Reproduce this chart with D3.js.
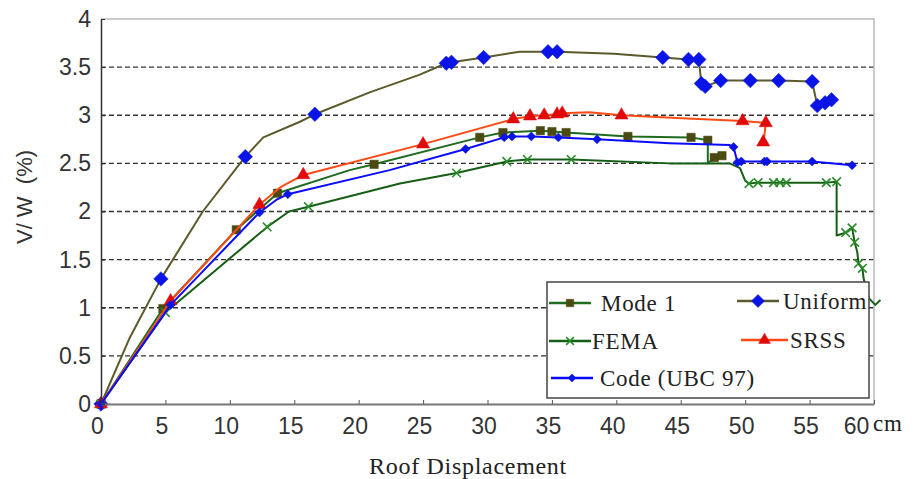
<!DOCTYPE html>
<html>
<head>
<meta charset="utf-8">
<script src="https://cdn.jsdelivr.net/npm/d3@7"></script>
<style>
  body { margin: 0; background: #fff; }
  .tick text { font-family: "Liberation Sans", Arial, sans-serif; font-size: 23px; fill: #333; }
  .serif { font-family: "Liberation Serif", "Times New Roman", serif; fill: #222; letter-spacing: 0.7px; }
</style>
</head>
<body>
<div id="chart"></div>
<script>
// [roof displacement (cm), V/W (%)]
const mode1Line = [[0,0],[4.8,0.99],[10.5,1.81],[13.7,2.19],[19.3,2.43],[21.2,2.49],[29.4,2.77],[31.2,2.82],[34.1,2.84],[35.0,2.83],[36.1,2.82],[40.9,2.78],[45.8,2.77],[47.1,2.74],[47.1,2.5],[47.6,2.56],[48.2,2.58]];
const mode1Marks = [[0,0],[4.8,0.99],[10.5,1.81],[13.7,2.19],[21.2,2.49],[29.4,2.77],[31.2,2.82],[34.1,2.84],[35.0,2.83],[36.1,2.82],[40.9,2.78],[45.8,2.77],[47.1,2.74],[47.6,2.56],[48.2,2.58]];

const uniformLine = [[0,0],[2.2,0.68],[4.65,1.3],[7.9,2.0],[11.2,2.57],[12.6,2.77],[15.4,2.93],[16.6,3.01],[20.9,3.24],[24.7,3.42],[26.8,3.54],[27.2,3.55],[29.7,3.6],[32.5,3.66],[34.7,3.66],[35.4,3.66],[39.8,3.64],[43.6,3.6],[45.6,3.58],[46.4,3.58],[46.6,3.33],[46.9,3.3],[48.1,3.36],[50.4,3.36],[52.6,3.36],[55.2,3.35],[55.6,3.1],[56.2,3.13],[56.7,3.16]];
const uniformMarks = [[0,0],[4.65,1.3],[11.2,2.57],[16.6,3.01],[26.8,3.54],[27.2,3.55],[29.7,3.6],[34.7,3.66],[35.4,3.66],[43.6,3.6],[45.6,3.58],[46.4,3.58],[46.6,3.33],[46.9,3.3],[48.1,3.36],[50.4,3.36],[52.6,3.36],[55.2,3.35],[55.6,3.1],[56.2,3.13],[56.7,3.16]];

const femaLine = [[0,0],[5.0,0.95],[12.9,1.84],[14.6,2.0],[16.1,2.05],[23.2,2.29],[27.6,2.4],[31.5,2.52],[33.1,2.54],[36.5,2.54],[44.1,2.5],[48.8,2.5],[49.6,2.45],[50.0,2.32],[50.3,2.29],[51.0,2.3],[52.2,2.3],[52.7,2.3],[53.2,2.3],[55.2,2.3],[56.3,2.3],[57.1,2.31],[57.1,1.75],[57.8,1.78],[58.3,1.83],[58.5,1.68],[58.7,1.58],[58.8,1.46],[59.1,1.41],[59.2,1.3],[59.6,1.1],[60.1,1.03],[60.5,1.08]];
const femaMarks = [[0,0],[5.0,0.95],[12.9,1.84],[16.1,2.05],[27.6,2.4],[31.5,2.52],[33.1,2.54],[36.5,2.54],[50.3,2.29],[51.0,2.3],[52.2,2.3],[52.7,2.3],[53.2,2.3],[56.3,2.3],[57.1,2.31],[57.8,1.78],[58.3,1.83],[58.5,1.68],[58.8,1.46],[59.1,1.41]];

const srssLine = [[0,0],[5.4,1.07],[12.3,2.07],[13.9,2.25],[15.7,2.38],[25,2.7],[32,2.96],[33.3,2.99],[34.4,3.0],[35.4,3.01],[35.8,3.02],[37.9,3.03],[40.4,3.0],[45.1,2.97],[49.8,2.94],[51.6,2.92],[51.5,2.8],[51.4,2.72]];
const srssMarks = [[0,0],[5.4,1.07],[12.3,2.07],[15.7,2.38],[25,2.7],[32,2.96],[33.3,2.99],[34.4,3.0],[35.4,3.01],[35.8,3.02],[40.4,3.0],[49.8,2.94],[51.6,2.92],[51.4,2.72]];

const codeLine = [[0,0],[5.4,1.03],[12.3,1.99],[13.6,2.12],[14.5,2.18],[22.4,2.43],[28.3,2.65],[31.3,2.77],[31.9,2.78],[33.4,2.78],[35.5,2.77],[38.5,2.75],[44.1,2.71],[48.8,2.69],[49.1,2.67],[49.4,2.51],[49.7,2.52],[51.5,2.52],[51.7,2.52],[55.2,2.52],[58.3,2.48]];
const codeMarks = [[0,0],[5.4,1.03],[12.3,1.99],[14.5,2.18],[28.3,2.65],[31.3,2.77],[31.9,2.78],[33.4,2.78],[35.5,2.77],[38.5,2.75],[49.1,2.67],[49.4,2.51],[49.7,2.52],[51.5,2.52],[51.7,2.52],[55.2,2.52],[58.3,2.48]];

const seriesNames = ["Mode 1", "Uniform", "FEMA", "SRSS", "Code (UBC 97)"];
const xTicks = [0, 5, 10, 15, 20, 25, 30, 35, 40, 45, 50, 55, 60];
const yTicks = [0, 0.5, 1, 1.5, 2, 2.5, 3, 3.5, 4];

const width = 913, height = 479;
const plotLeft = 101, plotRight = 874, plotTop = 19, plotBottom = 404;

const svg = d3.select("#chart").append("svg")
  .attr("width", width)
  .attr("height", height);

const x = d3.scaleLinear().domain([0, 60]).range([plotLeft, plotRight]);
const y = d3.scaleLinear().domain([0, 4]).range([plotBottom, plotTop]);

// grid
svg.append("g").selectAll("line")
  .data(yTicks.filter(d => d > 0 && d < 4))
  .join("line")
  .attr("x1", plotLeft).attr("x2", plotRight)
  .attr("y1", d => y(d)).attr("y2", d => y(d))
  .attr("stroke", "#333")
  .attr("stroke-width", 1.3)
  .attr("stroke-dasharray", "5,3");

// plot frame top / right
svg.append("path")
  .attr("d", `M${plotLeft},${plotTop}H${plotRight}V${plotBottom}`)
  .attr("fill", "none")
  .attr("stroke", "#bbb")
  .attr("stroke-width", 1.5);

// diamonds are squares turned 45 degrees
const styles = {
  "Mode 1": { line: "#1f6b1f", sym: d3.symbolSquare, size: 70, rot: 0, fill: "#4a4a12", stroke: "#4a4a12" },
  "Uniform": { line: "#5c5a2a", sym: d3.symbolSquare, size: 105, rot: 45, fill: "#0a14e6", stroke: "#0a14e6" },
  "FEMA": { line: "#165e16", sym: d3.symbolTimes, size: 50, rot: 0, fill: "none", stroke: "#2a8a2a" },
  "SRSS": { line: "#ff4a14", sym: d3.symbolTriangle, size: 75, rot: 0, fill: "#e00a0a", stroke: "#e00a0a" },
  "Code (UBC 97)": { line: "#0a0aff", sym: d3.symbolSquare, size: 40, rot: 45, fill: "#0a14e6", stroke: "#0a14e6" }
};

const series = [
  { name: "Mode 1", line: mode1Line, marks: mode1Marks },
  { name: "Uniform", line: uniformLine, marks: uniformMarks },
  { name: "FEMA", line: femaLine, marks: femaMarks },
  { name: "SRSS", line: srssLine, marks: srssMarks },
  { name: "Code (UBC 97)", line: codeLine, marks: codeMarks }
];

const line = d3.line().x(d => x(d[0])).y(d => y(d[1]));

series.forEach(s => {
  const st = styles[s.name];
  const g = svg.append("g");
  g.append("path")
    .datum(s.line)
    .attr("d", line)
    .attr("fill", "none")
    .attr("stroke", st.line)
    .attr("stroke-width", 2)
    .attr("stroke-linejoin", "round");
  g.selectAll("path.m")
    .data(s.marks)
    .join("path")
    .attr("class", "m")
    .attr("transform", d => `translate(${x(d[0])},${y(d[1])}) rotate(${st.rot})`)
    .attr("d", d3.symbol().type(st.sym).size(st.size))
    .attr("fill", st.fill)
    .attr("stroke", st.stroke)
    .attr("stroke-width", st.fill === "none" ? 1.6 : 0.5);
});

// axes
const xAxis = svg.append("g")
  .attr("transform", `translate(0,${plotBottom})`)
  .call(d3.axisBottom(x).tickValues(xTicks).tickSizeInner(-4).tickSizeOuter(0).tickPadding(14));
xAxis.select(".domain").attr("stroke", "#777").attr("stroke-width", 2);
xAxis.selectAll(".tick line").attr("stroke", "#555");
xAxis.selectAll(".tick text").attr("dx", d => d === 60 ? -18 : -4);

const yAxis = svg.append("g")
  .attr("transform", `translate(${plotLeft},0)`)
  .call(d3.axisLeft(y).tickValues(yTicks).tickFormat(d3.format("")).tickSizeInner(-4).tickSizeOuter(0).tickPadding(10));
yAxis.select(".domain").attr("stroke", "#333").attr("stroke-width", 1.5);
yAxis.selectAll(".tick line").attr("stroke", "#333");

// legend
const lg = svg.append("g");
lg.append("rect")
  .attr("x", 547).attr("y", 282)
  .attr("width", 322).attr("height", 116)
  .attr("fill", "#fff")
  .attr("stroke", "#444")
  .attr("stroke-width", 1.5);

const legendPos = [
  { x1: 549, x2: 591, tx: 601, ty: 303 },
  { x1: 737, x2: 779, tx: 783, ty: 301 },
  { x1: 549, x2: 591, tx: 592, ty: 341 },
  { x1: 741, x2: 788, tx: 790, ty: 340 },
  { x1: 551, x2: 593, tx: 600, ty: 378 }
];

series.forEach((s, i) => {
  const st = styles[s.name];
  const p = legendPos[i];
  lg.append("line")
    .attr("x1", p.x1).attr("x2", p.x2)
    .attr("y1", p.ty).attr("y2", p.ty)
    .attr("stroke", st.line).attr("stroke-width", 2.5);
  lg.append("path")
    .attr("transform", `translate(${(p.x1 + p.x2) / 2},${p.ty}) rotate(${st.rot})`)
    .attr("d", d3.symbol().type(st.sym).size(st.size * 0.8))
    .attr("fill", st.fill)
    .attr("stroke", st.stroke)
    .attr("stroke-width", st.fill === "none" ? 1.6 : 0.5);
  lg.append("text")
    .attr("class", "serif")
    .attr("x", p.tx).attr("y", p.ty + 8)
    .style("font-size", "23px")
    .text(s.name);
});

// axis titles
svg.append("text")
  .attr("class", "serif")
  .attr("x", 468).attr("y", 474)
  .attr("text-anchor", "middle")
  .style("font-size", "24px")
  .text("Roof Displacement");

svg.append("text")
  .attr("class", "serif")
  .attr("x", 873).attr("y", 431)
  .style("font-size", "23px")
  .text("cm");

svg.append("text")
  .attr("transform", "translate(32,197) rotate(-90)")
  .attr("text-anchor", "middle")
  .style("font-family", "Liberation Sans, Arial, sans-serif")
  .style("font-size", "22px")
  .style("white-space", "pre")
  .attr("fill", "#333")
  .text("V/ W  (%)");
</script>
</body>
</html>
